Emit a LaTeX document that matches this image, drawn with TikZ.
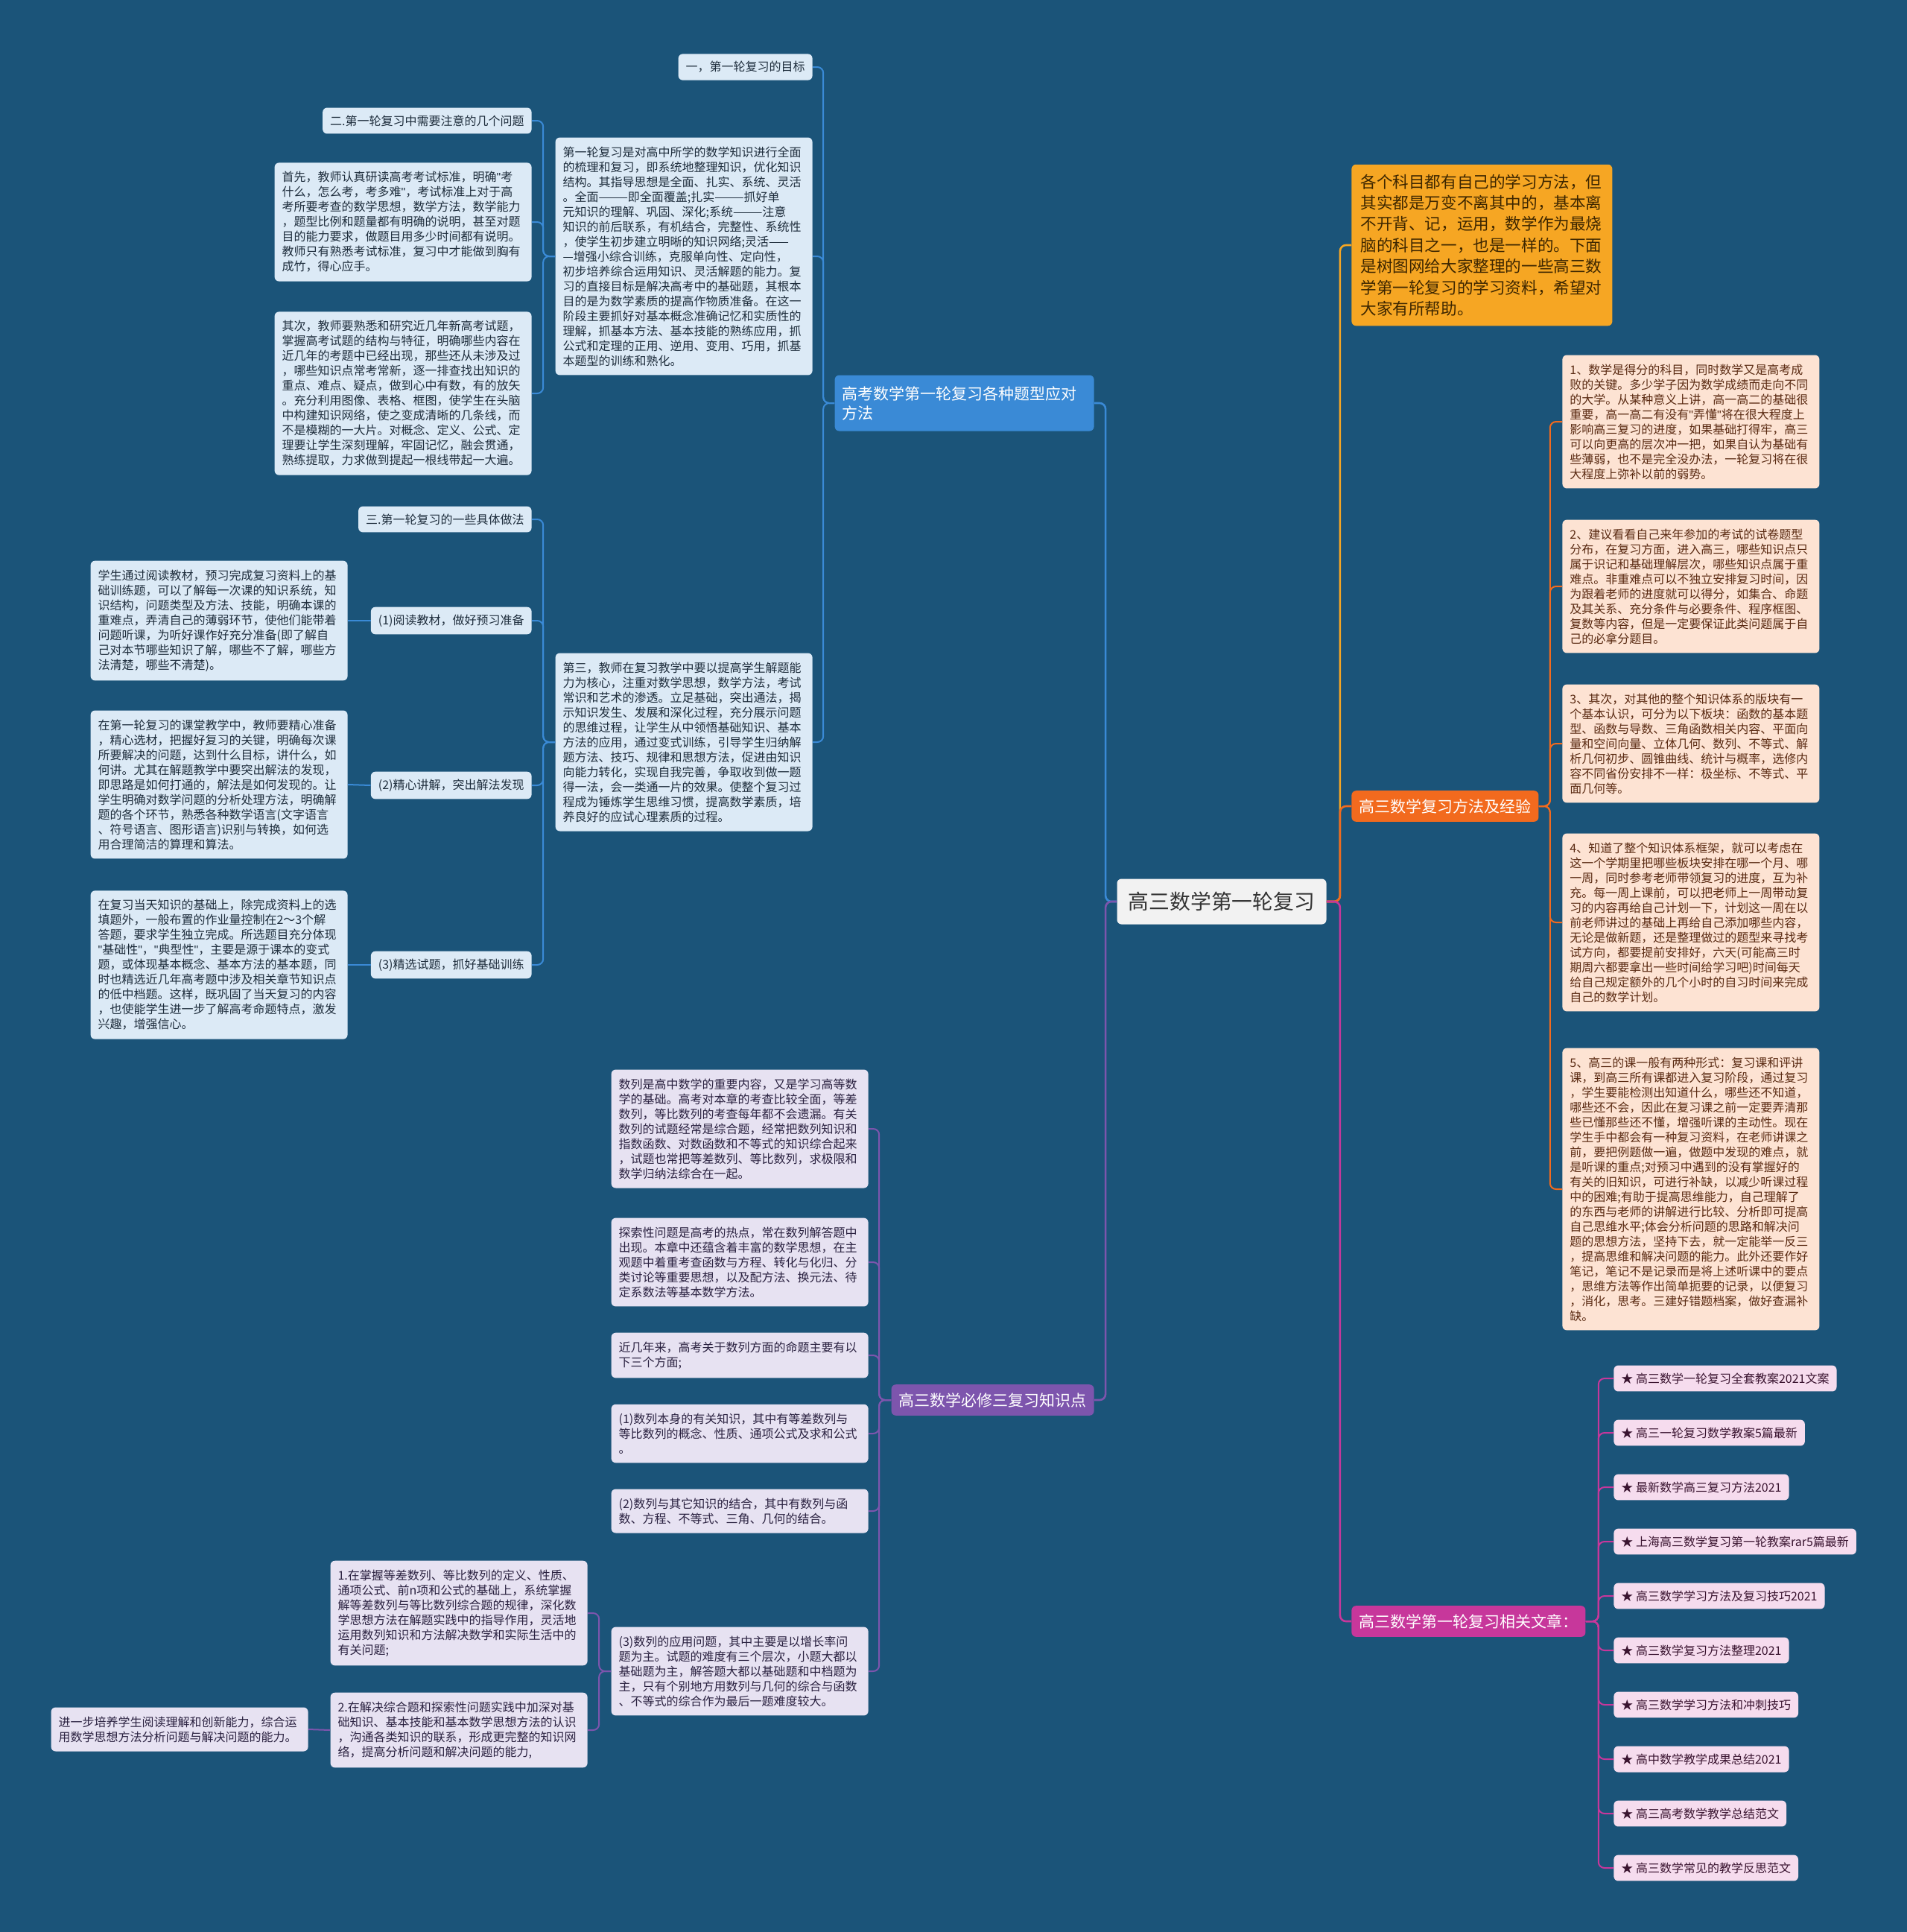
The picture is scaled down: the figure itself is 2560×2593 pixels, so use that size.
\documentclass[tikz,border=0pt]{standalone}
\usepackage{fontspec}
\setmainfont{Noto Sans CJK SC}
\newfontfamily\quotefont{Liberation Sans}
\newcommand{\zhq}{{\quotefont"}}
\usepackage{tikz}

\definecolor{canvas}{HTML}{1B5479}
\definecolor{rootfill}{HTML}{F2F2F2}
\definecolor{rootink}{HTML}{333333}
\definecolor{skyline}{HTML}{3A8AD6}
\definecolor{skyfill}{HTML}{DCEAF6}
\definecolor{skyink}{HTML}{1E2D3C}
\definecolor{ambfill}{HTML}{F6A623}
\definecolor{ambink}{HTML}{3D2600}
\definecolor{flame}{HTML}{F26A1E}
\definecolor{peachfill}{HTML}{FDE3D3}
\definecolor{peachink}{HTML}{5A2A12}
\definecolor{rose}{HTML}{C7379B}
\definecolor{rosefill}{HTML}{F6DCEE}
\definecolor{roseink}{HTML}{3A1430}
\definecolor{grape}{HTML}{7D55AD}
\definecolor{lilacfill}{HTML}{E7E2F2}
\definecolor{lilacink}{HTML}{2A2140}

\begin{document}
\begin{tikzpicture}[x=0.5pt, y=-0.5pt,
  para/.style={rounded corners=3pt, inner xsep=5pt, inner ysep=6pt, text width=162.5pt, align=left, font=\fontsize{8}{10}\selectfont},
  tag/.style={rounded corners=3pt, inner xsep=5pt, inner ysep=5pt, font=\fontsize{8}{10}\selectfont},
  skypara/.style={para, fill=skyfill, text=skyink},
  skytag/.style={tag, fill=skyfill, text=skyink},
  peachpara/.style={para, fill=peachfill, text=peachink},
  lilacpara/.style={para, fill=lilacfill, text=lilacink},
  roselink/.style={tag, fill=rosefill, text=roseink},
  branch/.style={rounded corners=3pt, inner xsep=5pt, inner ysep=5.5pt, text=white, font=\fontsize{10.5}{13}\selectfont},
  rootbox/.style={rounded corners=3pt, fill=rootfill, text=rootink, minimum width=140.5pt, minimum height=30.5pt, font=\fontsize{13.9}{16}\selectfont},
  introbox/.style={rounded corners=3pt, fill=ambfill, text=ambink, inner xsep=6pt, inner ysep=6.5pt, text width=163pt, align=left, font=\fontsize{10.8}{14.2}\selectfont},
  link/.style={rounded corners=4pt, line width=1pt},
  trunk/.style={rounded corners=4pt, line width=1.3pt}
]
\useasboundingbox (0,0) rectangle (2560,2593);
\fill[canvas] (0,0) rectangle (2560,2593);

\node[rootbox] (root) at (1640,1210) {高三数学第一轮复习};

% left: blue branch
\node[branch, fill=skyline, text width=164pt, align=left, minimum height=37.5pt, anchor=east] (tixing) at (1469,541) {高考数学第一轮复习各种题型应对\\方法};
\node[skytag, anchor=east] (mubiao) at (1091,90) {一，第一轮复习的目标};
\node[skypara, anchor=east] (quanmian) at (1091,344) {第一轮复习是对高中所学的数学知识进行全面\\的梳理和复习，即系统地整理知识，优化知识\\结构。其指导思想是全面、扎实、系统、灵活\\。全面———即全面覆盖;扎实———抓好单\\元知识的理解、巩固、深化;系统———注意\\知识的前后联系，有机结合，完整性、系统性\\，使学生初步建立明晰的知识网络;灵活——\\—增强小综合训练，克服单向性、定向性，\\初步培养综合运用知识、灵活解题的能力。复\\习的直接目标是解决高考中的基础题，其根本\\目的是为数学素质的提高作物质准备。在这一\\阶段主要抓好对基本概念准确记忆和实质性的\\理解，抓基本方法、基本技能的熟练应用，抓\\公式和定理的正用、逆用、变用、巧用，抓基\\本题型的训练和熟化。};
\node[skypara, anchor=east] (disan) at (1091,996) {第三，教师在复习教学中要以提高学生解题能\\力为核心，注重对数学思想，数学方法，考试\\常识和艺术的渗透。立足基础，突出通法，揭\\示知识发生、发展和深化过程，充分展示问题\\的思维过程，让学生从中领悟基础知识、基本\\方法的应用，通过变式训练，引导学生归纳解\\题方法、技巧、规律和思想方法，促进由知识\\向能力转化，实现自我完善，争取收到做一题\\得一法，会一类通一片的效果。使整个复习过\\程成为锤炼学生思维习惯，提高数学素质，培\\养良好的应试心理素质的过程。};
\node[skytag, anchor=east] (zhuyi) at (714,162) {二.第一轮复习中需要注意的几个问题};
\node[skypara, anchor=east] (shouxian) at (714,298) {首先，教师认真研读高考考试标准，明确\zhq 考\\什么，怎么考，考多难\zhq，考试标准上对于高\\考所要考查的数学思想，数学方法，数学能力\\，题型比例和题量都有明确的说明，甚至对题\\目的能力要求，做题目用多少时间都有说明。\\教师只有熟悉考试标准，复习中才能做到胸有\\成竹，得心应手。};
\node[skypara, anchor=east] (qici) at (714,528) {其次，教师要熟悉和研究近几年新高考试题，\\掌握高考试题的结构与特征，明确哪些内容在\\近几年的考题中已经出现，那些还从未涉及过\\，哪些知识点常考常新，逐一排查找出知识的\\重点、难点、疑点，做到心中有数，有的放矢\\。充分利用图像、表格、框图，使学生在头脑\\中构建知识网络，使之变成清晰的几条线，而\\不是模糊的一大片。对概念、定义、公式、定\\理要让学生深刻理解，牢固记忆，融会贯通，\\熟练提取，力求做到提起一根线带起一大遍。};
\node[skytag, anchor=east] (zuofa) at (714,697) {三.第一轮复习的一些具体做法};
\node[skytag, anchor=east] (yuedu) at (714,833) {(1)阅读教材，做好预习准备};
\node[skytag, anchor=east] (jiangjie) at (714,1054) {(2)精心讲解，突出解法发现};
\node[skytag, anchor=east] (jingxuan) at (714,1295) {(3)精选试题，抓好基础训练};
\node[skypara, anchor=east] (yueduText) at (467,833) {学生通过阅读教材，预习完成复习资料上的基\\础训练题，可以了解每一次课的知识系统，知\\识结构，问题类型及方法、技能，明确本课的\\重难点，弄清自己的薄弱环节，使他们能带着\\问题听课，为听好课作好充分准备(即了解自\\己对本节哪些知识了解，哪些不了解，哪些方\\法清楚，哪些不清楚)。};
\node[skypara, anchor=east] (jiangjieText) at (467,1053) {在第一轮复习的课堂教学中，教师要精心准备\\，精心选材，把握好复习的关键，明确每次课\\所要解决的问题，达到什么目标，讲什么，如\\何讲。尤其在解题教学中要突出解法的发现，\\即思路是如何打通的，解法是如何发现的。让\\学生明确对数学问题的分析处理方法，明确解\\题的各个环节，熟悉各种数学语言(文字语言\\、符号语言、图形语言)识别与转换，如何选\\用合理简洁的算理和算法。};
\node[skypara, anchor=east] (jingxuanText) at (467,1295) {在复习当天知识的基础上，除完成资料上的选\\填题外，一般布置的作业量控制在2～3个解\\答题，要求学生独立完成。所选题目充分体现\\\zhq 基础性\zhq，\zhq 典型性\zhq，主要是源于课本的变式\\题，或体现基本概念、基本方法的基本题，同\\时也精选近几年高考题中涉及相关章节知识点\\的低中档题。这样，既巩固了当天复习的内容\\，也使能学生进一步了解高考命题特点，激发\\兴趣，增强信心。};

% left: purple branch
\node[branch, fill=grape, anchor=east] (bixiu) at (1469,1879) {高三数学必修三复习知识点};
\node[lilacpara, anchor=east] (shulie) at (1166,1515) {数列是高中数学的重要内容，又是学习高等数\\学的基础。高考对本章的考查比较全面，等差\\数列，等比数列的考查每年都不会遗漏。有关\\数列的试题经常是综合题，经常把数列知识和\\指数函数、对数函数和不等式的知识综合起来\\，试题也常把等差数列、等比数列，求极限和\\数学归纳法综合在一起。};
\node[lilacpara, anchor=east] (tansuo) at (1166,1694) {探索性问题是高考的热点，常在数列解答题中\\出现。本章中还蕴含着丰富的数学思想，在主\\观题中着重考查函数与方程、转化与化归、分\\类讨论等重要思想，以及配方法、换元法、待\\定系数法等基本数学方法。};
\node[lilacpara, anchor=east] (jinnian) at (1166,1819) {近几年来，高考关于数列方面的命题主要有以\\下三个方面;};
\node[lilacpara, anchor=east] (benshen) at (1166,1924) {(1)数列本身的有关知识，其中有等差数列与\\等比数列的概念、性质、通项公式及求和公式\\。};
\node[lilacpara, anchor=east] (jiehe) at (1166,2028) {(2)数列与其它知识的结合，其中有数列与函\\数、方程、不等式、三角、几何的结合。};
\node[lilacpara, anchor=east] (yingyong) at (1166,2243) {(3)数列的应用问题，其中主要是以增长率问\\题为主。试题的难度有三个层次，小题大都以\\基础题为主，解答题大都以基础题和中档题为\\主，只有个别地方用数列与几何的综合与函数\\、不等式的综合作为最后一题难度较大。};
\node[lilacpara, anchor=east] (zhangwo) at (789,2165) {1.在掌握等差数列、等比数列的定义、性质、\\通项公式、前n项和公式的基础上，系统掌握\\解等差数列与等比数列综合题的规律，深化数\\学思想方法在解题实践中的指导作用，灵活地\\运用数列知识和方法解决数学和实际生活中的\\有关问题;};
\node[lilacpara, anchor=east] (jiejue) at (789,2322) {2.在解决综合题和探索性问题实践中加深对基\\础知识、基本技能和基本数学思想方法的认识\\，沟通各类知识的联系，形成更完整的知识网\\络，提高分析问题和解决问题的能力,};
\node[lilacpara, anchor=east] (peiyang) at (414,2321) {进一步培养学生阅读理解和创新能力，综合运\\用数学思想方法分析问题与解决问题的能力。};

% right side
\node[introbox, anchor=west] (yinyan) at (1814,329) {各个科目都有自己的学习方法，但\\其实都是万变不离其中的，基本离\\不开背、记，运用，数学作为最烧\\脑的科目之一，也是一样的。下面\\是树图网给大家整理的一些高三数\\学第一轮复习的学习资料，希望对\\大家有所帮助。};
\node[branch, fill=flame, anchor=west] (fangfa) at (1814,1082) {高三数学复习方法及经验};
\node[peachpara, anchor=west] (jingyan1) at (2097,566) {1、数学是得分的科目，同时数学又是高考成\\败的关键。多少学子因为数学成绩而走向不同\\的大学。从某种意义上讲，高一高二的基础很\\重要，高一高二有没有\zhq 弄懂\zhq 将在很大程度上\\影响高三复习的进度，如果基础打得牢，高三\\可以向更高的层次冲一把，如果自认为基础有\\些薄弱，也不是完全没办法，一轮复习将在很\\大程度上弥补以前的弱势。};
\node[peachpara, anchor=west] (jingyan2) at (2097,787) {2、建议看看自己来年参加的考试的试卷题型\\分布，在复习方面，进入高三，哪些知识点只\\属于识记和基础理解层次，哪些知识点属于重\\难点。非重难点可以不独立安排复习时间，因\\为跟着老师的进度就可以得分，如集合、命题\\及其关系、充分条件与必要条件、程序框图、\\复数等内容，但是一定要保证此类问题属于自\\己的必拿分题目。};
\node[peachpara, anchor=west] (jingyan3) at (2097,998) {3、其次，对其他的整个知识体系的版块有一\\个基本认识，可分为以下板块：函数的基本题\\型、函数与导数、三角函数相关内容、平面向\\量和空间向量、立体几何、数列、不等式、解\\析几何初步、圆锥曲线、统计与概率，选修内\\容不同省份安排不一样：极坐标、不等式、平\\面几何等。};
\node[peachpara, anchor=west] (jingyan4) at (2097,1238) {4、知道了整个知识体系框架，就可以考虑在\\这一个学期里把哪些板块安排在哪一个月、哪\\一周，同时参考老师带领复习的进度，互为补\\充。每一周上课前，可以把老师上一周带动复\\习的内容再给自己计划一下，计划这一周在以\\前老师讲过的基础上再给自己添加哪些内容，\\无论是做新题，还是整理做过的题型来寻找考\\试方向，都要提前安排好，六天(可能高三时\\期周六都要拿出一些时间给学习吧)时间每天\\给自己规定额外的几个小时的自习时间来完成\\自己的数学计划。};
\node[peachpara, anchor=west] (jingyan5) at (2097,1596) {5、高三的课一般有两种形式：复习课和评讲\\课，到高三所有课都进入复习阶段，通过复习\\，学生要能检测出知道什么，哪些还不知道，\\哪些还不会，因此在复习课之前一定要弄清那\\些已懂那些还不懂，增强听课的主动性。现在\\学生手中都会有一种复习资料，在老师讲课之\\前，要把例题做一遍，做题中发现的难点，就\\是听课的重点;对预习中遇到的没有掌握好的\\有关的旧知识，可进行补缺，以减少听课过程\\中的困难;有助于提高思维能力，自己理解了\\的东西与老师的讲解进行比较、分析即可提高\\自己思维水平;体会分析问题的思路和解决问\\题的思想方法，坚持下去，就一定能举一反三\\，提高思维和解决问题的能力。此外还要作好\\笔记，笔记不是记录而是将上述听课中的要点\\，思维方法等作出简单扼要的记录，以便复习\\，消化，思考。三建好错题档案，做好查漏补\\缺。};
\node[branch, fill=rose, anchor=west] (wenzhang) at (1814,2176) {高三数学第一轮复习相关文章：};
\node[roselink, anchor=west] (wz1) at (2166,1850) {★ 高三数学一轮复习全套教案2021文案};
\node[roselink, anchor=west] (wz2) at (2166,1923) {★ 高三一轮复习数学教案5篇最新};
\node[roselink, anchor=west] (wz3) at (2166,1996) {★ 最新数学高三复习方法2021};
\node[roselink, anchor=west] (wz4) at (2166,2069) {★ 上海高三数学复习第一轮教案rar5篇最新};
\node[roselink, anchor=west] (wz5) at (2166,2142) {★ 高三数学学习方法及复习技巧2021};
\node[roselink, anchor=west] (wz6) at (2166,2215) {★ 高三数学复习方法整理2021};
\node[roselink, anchor=west] (wz7) at (2166,2288) {★ 高三数学学习方法和冲刺技巧};
\node[roselink, anchor=west] (wz8) at (2166,2361) {★ 高中数学教学成果总结2021};
\node[roselink, anchor=west] (wz9) at (2166,2434) {★ 高三高考数学教学总结范文};
\node[roselink, anchor=west] (wz10) at (2166,2507) {★ 高三数学常见的教学反思范文};

% connectors
\draw[trunk, skyline] (root.west) -- ++(-15,0) |- (tixing.east);
\draw[trunk, grape] (root.west) -- ++(-15,0) |- (bixiu.east);
\draw[trunk, ambfill] (root.east) -- ++(18,0) |- (yinyan.west);
\draw[trunk, flame] (root.east) -- ++(18,0) |- (fangfa.west);
\draw[trunk, rose] (root.east) -- ++(18,0) |- (wenzhang.west);

\draw[link, skyline] (tixing.west) -- ++(-15,0) |- (mubiao.east);
\draw[link, skyline] (tixing.west) -- ++(-15,0) |- (quanmian.east);
\draw[link, skyline] (tixing.west) -- ++(-15,0) |- (disan.east);
\draw[link, skyline] (quanmian.west) -- ++(-16,0) |- (zhuyi.east);
\draw[link, skyline] (quanmian.west) -- ++(-16,0) |- (shouxian.east);
\draw[link, skyline] (quanmian.west) -- ++(-16,0) |- (qici.east);
\draw[link, skyline] (disan.west) -- ++(-16,0) |- (zuofa.east);
\draw[link, skyline] (disan.west) -- ++(-16,0) |- (yuedu.east);
\draw[link, skyline] (disan.west) -- ++(-16,0) |- (jiangjie.east);
\draw[link, skyline] (disan.west) -- ++(-16,0) |- (jingxuan.east);
\draw[link, skyline] (yuedu.west) -- (yueduText.east);
\draw[link, skyline] (jiangjie.west) -- (jiangjieText.east);
\draw[link, skyline] (jingxuan.west) -- (jingxuanText.east);

\draw[link, grape] (bixiu.west) -- ++(-16,0) |- (shulie.east);
\draw[link, grape] (bixiu.west) -- ++(-16,0) |- (tansuo.east);
\draw[link, grape] (bixiu.west) -- ++(-16,0) |- (jinnian.east);
\draw[link, grape] (bixiu.west) -- ++(-16,0) |- (benshen.east);
\draw[link, grape] (bixiu.west) -- ++(-16,0) |- (jiehe.east);
\draw[link, grape] (bixiu.west) -- ++(-16,0) |- (yingyong.east);
\draw[link, grape] (yingyong.west) -- ++(-16,0) |- (zhangwo.east);
\draw[link, grape] (yingyong.west) -- ++(-16,0) |- (jiejue.east);
\draw[link, grape] (jiejue.west) -- (peiyang.east);

\draw[link, flame] (fangfa.east) -- ++(15,0) |- (jingyan1.west);
\draw[link, flame] (fangfa.east) -- ++(15,0) |- (jingyan2.west);
\draw[link, flame] (fangfa.east) -- ++(15,0) |- (jingyan3.west);
\draw[link, flame] (fangfa.east) -- ++(15,0) |- (jingyan4.west);
\draw[link, flame] (fangfa.east) -- ++(15,0) |- (jingyan5.west);

\draw[link, rose] (wenzhang.east) -- ++(17,0) |- (wz1.west);
\draw[link, rose] (wenzhang.east) -- ++(17,0) |- (wz2.west);
\draw[link, rose] (wenzhang.east) -- ++(17,0) |- (wz3.west);
\draw[link, rose] (wenzhang.east) -- ++(17,0) |- (wz4.west);
\draw[link, rose] (wenzhang.east) -- ++(17,0) |- (wz5.west);
\draw[link, rose] (wenzhang.east) -- ++(17,0) |- (wz6.west);
\draw[link, rose] (wenzhang.east) -- ++(17,0) |- (wz7.west);
\draw[link, rose] (wenzhang.east) -- ++(17,0) |- (wz8.west);
\draw[link, rose] (wenzhang.east) -- ++(17,0) |- (wz9.west);
\draw[link, rose] (wenzhang.east) -- ++(17,0) |- (wz10.west);
\end{tikzpicture}
\end{document}
